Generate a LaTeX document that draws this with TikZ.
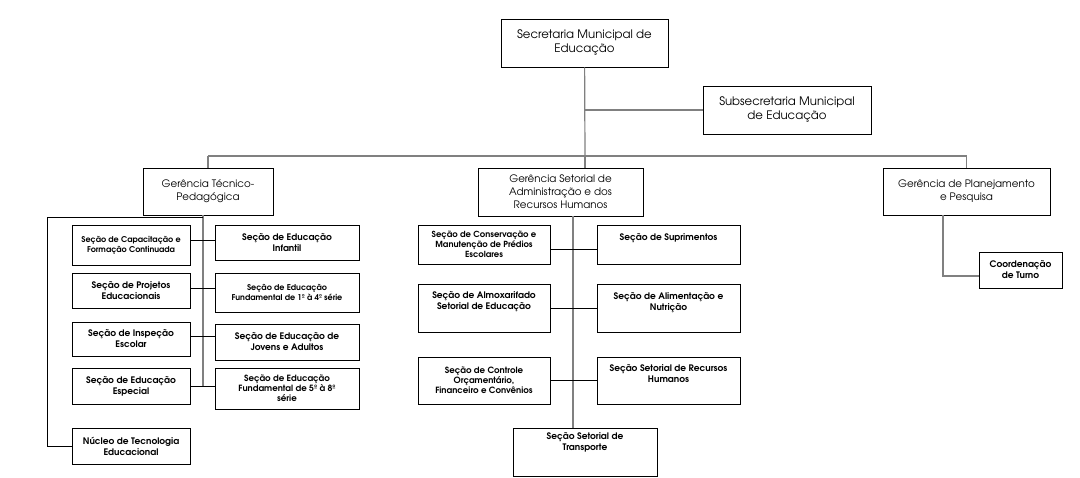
\documentclass[tikz,border=0pt]{standalone}
\usepackage{fontspec}
\setmainfont{TeX Gyre Adventor}
\usetikzlibrary{positioning}
\definecolor{trunkgray}{gray}{0.5}
\tikzset{unit/.style={draw=black, line width=0.9pt, align=center, inner sep=1pt, font=\fontsize{10.3}{13}\selectfont}}
\tikzset{head/.style={unit, font=\fontsize{11.7}{14}\selectfont}}
\tikzset{sec/.style={draw=black, line width=0.9pt, align=center, inner sep=1pt, font=\fontsize{9}{11}\selectfont\bfseries}}
\tikzset{small/.style={font=\fontsize{#1}{10}\selectfont\bfseries}}
\tikzset{lift/.style={text depth=#1}}
\tikzset{trunk/.style={draw=trunkgray, line width=1.2pt}}
\tikzset{link/.style={draw=black, line width=0.8pt}}

\begin{document}
\begin{tikzpicture}[x=1pt, y=-1pt]
    \useasboundingbox (0,0) rectangle (1080,478);

    % top level
    \node[head, minimum width=167pt, minimum height=48pt] (smed) at (584.5,43) {Secretaria Municipal de\\Educação};
    \node[head, minimum width=168pt, minimum height=48pt] (subsec) at (787,110) {Subsecretaria Municipal\\de Educação};

    % gerencias
    \node[unit, minimum width=130pt, minimum height=47pt] (gtp) at (208,191.5) {Gerência Técnico-\\Pedagógica};
    \node[unit, minimum width=165pt, minimum height=48pt] (gsa) at (560.5,192) {Gerência Setorial de\\Administração e dos\\Recursos Humanos};
    \node[unit, minimum width=167pt, minimum height=47pt] (gpp) at (966.5,191.5) {Gerência de Planejamento\\e Pesquisa};
    \node[sec, minimum width=83pt, minimum height=36pt] (turno) at (1020.5,270) {Coordenação\\de Turno};

    % tecnico-pedagogica
    \node[sec, small=8, minimum width=118pt, minimum height=40pt] (capac) at (131,245) {Seção de Capacitação e\\Formação Continuada};
    \node[sec, minimum width=118pt, minimum height=35pt] (projet) at (131,290.5) {Seção de Projetos\\Educacionais};
    \node[sec, minimum width=118pt, minimum height=34pt] (inspec) at (131,339) {Seção de Inspeção\\Escolar};
    \node[sec, minimum width=118pt, minimum height=36pt] (especial) at (131,386) {Seção de Educação\\Especial};
    \node[sec, minimum width=118pt, minimum height=36pt] (nucleo) at (131,446) {Núcleo de Tecnologia\\Educacional};

    \node[sec, minimum width=144pt, minimum height=35pt] (infantil) at (287,242.5) {Seção de Educação\\Infantil};
    \node[sec, small=8, minimum width=144pt, minimum height=39pt] (fund14) at (287,292.5) {Seção de Educação\\Fundamental de 1º à 4º série};
    \node[sec, minimum width=144pt, minimum height=36pt] (jovens) at (287,342) {Seção de Educação de\\Jovens e Adultos};
    \node[sec, small=8.6, minimum width=144pt, minimum height=41pt] (fund58) at (287,388.5) {Seção de Educação\\Fundamental de 5º à 8º\\série};

    % setorial de administracao
    \node[sec, small=8.4, minimum width=132pt, minimum height=39pt] (conserv) at (484,244.5) {Seção de Conservação e\\Manutenção de Prédios\\Escolares};
    \node[sec, lift=14pt, minimum width=132pt, minimum height=48pt] (almox) at (484,308) {Seção de Almoxarifado\\Setorial de Educação};
    \node[sec, small=8.6, minimum width=132pt, minimum height=47pt] (controle) at (484,380.5) {Seção de Controle\\Orçamentário,\\Financeiro e Convênios};

    \node[sec, lift=14pt, minimum width=143pt, minimum height=39pt] (suprim) at (668.5,244.5) {Seção de Suprimentos};
    \node[sec, lift=12pt, minimum width=143pt, minimum height=48pt] (aliment) at (668.5,308) {Seção de Alimentação e\\Nutrição};
    \node[sec, lift=14pt, minimum width=143pt, minimum height=47pt] (rh) at (668.5,380.5) {Seção Setorial de Recursos\\Humanos};
    \node[sec, lift=20pt, minimum width=144pt, minimum height=48pt] (transp) at (585,452) {Seção Setorial de\\Transporte};

    % trunk lines
    \coordinate (hub) at (585,156);
    \draw[trunk] (smed) -- (hub);
    \draw[trunk] (smed.south |- subsec) -- (subsec.west);
    \draw[trunk] (gtp.north |- hub) -- (gpp.north |- hub);
    \draw[trunk] (gtp.north |- hub) -- (gtp.north);
    \draw[trunk] (hub) -- (hub |- gsa.north);
    \draw[trunk] (gpp.north |- hub) -- (gpp.north);

    \coordinate (ltop) at (203,215);
    \coordinate (lbot) at (203,386);
    \draw[trunk] (ltop) -- (lbot);
    \coordinate (lcorner) at (47,217);
    \draw[link] (203,217) -- (lcorner) -- (lcorner |- nucleo.west) -- (nucleo.west);

    \coordinate (mtop) at (573,216);
    \draw[trunk] (mtop) -- (mtop |- transp.north);

    \coordinate (rtop) at (943,215);
    \draw[trunk] (rtop) -- ([yshift=-6pt]rtop |- turno.west) -- ([yshift=-6pt]turno.west);

    % section connectors
    \draw[link] ([yshift=5pt]capac.east) -- ([yshift=5pt]capac.east -| infantil.west);
    \draw[link] ([yshift=2.5pt]projet.east) -- ([yshift=2.5pt]projet.east -| fund14.west);
    \draw[link] ([yshift=3pt]inspec.east) -- ([yshift=3pt]inspec.east -| jovens.west);
    \draw[link] (especial.east) -- (especial.east -| fund58.west);

    \draw[link] ([yshift=-4.5pt]conserv.east) -- ([yshift=-4.5pt]conserv.east -| suprim.west);
    \draw[link] (almox.east) -- (almox.east -| aliment.west);
    \draw[link] (controle.east) -- (controle.east -| rh.west);
\end{tikzpicture}
\end{document}
